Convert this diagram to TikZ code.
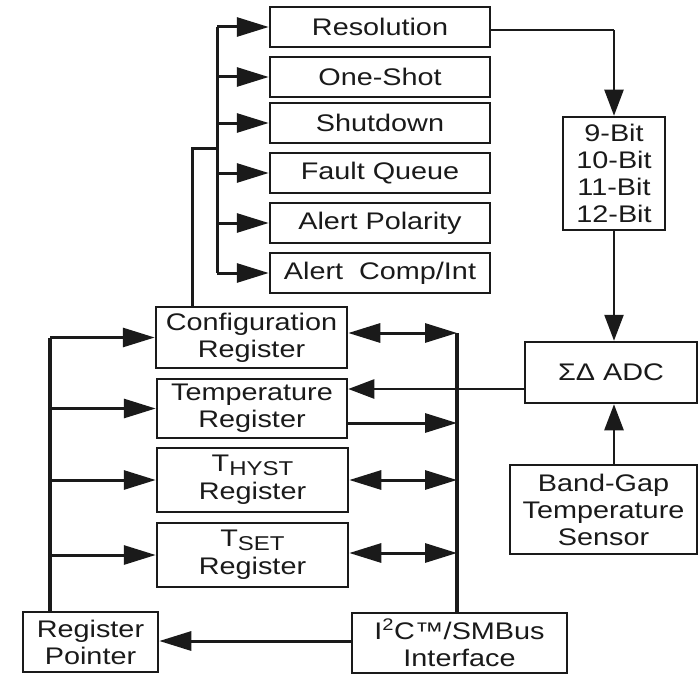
\documentclass[tikz,border=0pt]{standalone}
\usepackage{fontspec}
\setmainfont[FakeStretch=1.2]{Liberation Sans}
\usetikzlibrary{arrows.meta}
\definecolor{ink}{HTML}{1A1A1A}
\begin{document}
\begin{tikzpicture}[x=1pt,y=-1pt,
  box/.style={draw=ink, line width=2.5pt, inner sep=0pt, align=center, text=ink,
    font=\fontsize{24}{27}\selectfont},
  tip/.tip={Triangle[length=32pt,width=19pt]},
  stip/.tip={Triangle[length=26pt,width=19pt]},
  arr/.style={-tip, line width=3pt, draw=ink},
  dbl/.style={tip-tip, line width=3pt, draw=ink},
  thinarr/.style={-stip, line width=2.2pt, draw=ink},
  wire/.style={line width=3pt, draw=ink},
  thinwire/.style={line width=2pt, draw=ink}]
\useasboundingbox (0,0) rectangle (700,674);
\fill[white] (0,0) rectangle (700,674);

% configuration bit boxes
\node[box, minimum width=220pt, minimum height=40pt] (res)   at (380,27)  {Resolution};
\node[box, minimum width=220pt, minimum height=40pt] (one)   at (380,77)  {One-Shot};
\node[box, minimum width=220pt, minimum height=40pt] (shut)  at (380,123) {Shutdown};
\node[box, minimum width=220pt, minimum height=40pt] (fault) at (380,173) {Fault Queue};
\node[box, minimum width=220pt, minimum height=40pt] (pol)   at (380,223) {Alert Polarity};
\node[box, minimum width=220pt, minimum height=40pt] (comp)  at (380,273) {Alert\ \ Comp/Int};

% registers
\node[box, minimum width=191pt, minimum height=61pt] (conf)  at (251.5,337.5) {Configuration\\Register};
\node[box, minimum width=190pt, minimum height=59pt] (temp)  at (252,408.5) {Temperature\\Register};
\node[box, minimum width=191pt, minimum height=64pt] (thyst) at (252.5,480) {T{\fontsize{20}{20}\selectfont\raisebox{-4pt}{HYST}}\\[1pt]Register};
\node[box, minimum width=191pt, minimum height=64pt] (tset)  at (252.5,555) {T{\fontsize{20}{20}\selectfont\raisebox{-4pt}{SET}}\\[1pt]Register};
\node[box, minimum width=135pt, minimum height=60pt] (rp)    at (90.5,642) {Register\\Pointer};
\node[box, minimum width=215pt, minimum height=60pt] (i2c)   at (459.5,643) {I\textsuperscript{2}C™/SMBus\\Interface};

% right side
\node[box, minimum width=102pt, minimum height=113pt] (bit) at (614,173.5) {9-Bit\\10-Bit\\11-Bit\\12-Bit};
\node[box, minimum width=172pt, minimum height=61pt] (adc) at (611,372.5) {ΣΔ ADC};
\node[box, minimum width=187pt, minimum height=89pt] (bg)  at (603.5,509.5) {Band-Gap\\Temperature\\Sensor};

% top bus
\coordinate (tbT) at (217,27);
\coordinate (tbB) at (217,273);
\coordinate (tk)  at (217,148);
\coordinate (ck)  at (192,148);
\draw[wire] (tbT) -- (tbB);
\draw[wire] (ck |- conf.north) -- (ck) -- (tk);
\foreach \n in {res,one,shut,fault,pol,comp}
  \draw[arr] (\n.west -| tbT) -- (\n.west);

% left bus
\coordinate (lb) at (50,338);
\draw[line width=4pt, draw=ink] (lb) -- (lb |- rp.north);
\foreach \n in {conf,temp,thyst,tset}
  \draw[arr] (\n.west -| lb) -- (\n.west);

% right bus
\coordinate (rb) at (457,333);
\draw[line width=4pt, draw=ink] (rb) -- (rb |- i2c.north);
\draw[dbl] (conf.east |- rb) -- (rb);
\coordinate (ta) at (457,389);
\coordinate (tb) at (457,423);
\coordinate (th) at (457,480);
\coordinate (ts) at (457,553);
\draw[thinarr, line width=2.5pt] (adc.west |- ta) -- (temp.east |- ta);
\draw[arr] (temp.east |- tb) -- (tb);
\draw[dbl] (thyst.east |- th) -- (th);
\draw[dbl] (tset.east |- ts) -- (ts);

% I2C to register pointer
\coordinate (pp) at (352,641);
\draw[arr] (i2c.west |- pp) -- (rp.east |- pp);

% resolution to bit box to ADC
\coordinate (rr) at (614,30);
\draw[thinwire] (res.east |- rr) -- (rr);
\draw[thinarr] (rr) -- (bit.north);
\draw[thinarr, line width=2.5pt] (bit.south) -- (bit.south |- adc.north);
\draw[thinarr, line width=2.5pt] (bg.north -| bit.south) -- (bit.south |- adc.south);
\end{tikzpicture}
\end{document}
